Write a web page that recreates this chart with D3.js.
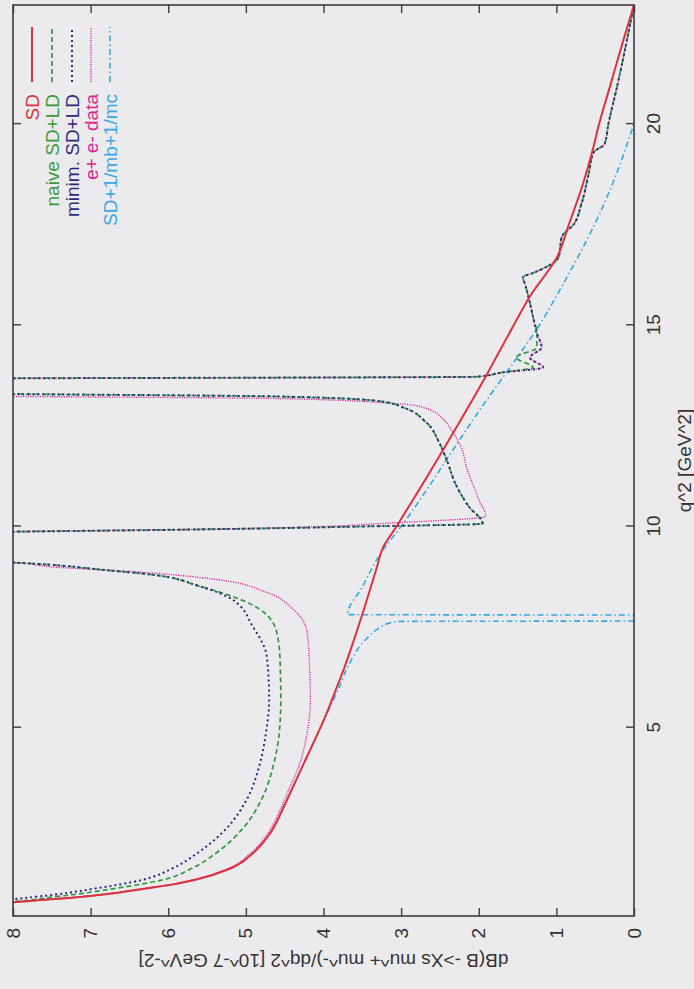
<!DOCTYPE html>
<html>
<head>
<meta charset="utf-8">
<script src="https://cdn.jsdelivr.net/npm/d3@7"></script>
<style>
  html, body { margin: 0; padding: 0; background: #ebebee; }
  svg { display: block; }
  text { font-family: "Liberation Sans", Arial, Helvetica, sans-serif; }
</style>
</head>
<body>
<svg width="694" height="989"></svg>
<script>
// tick values
const q2Ticks = [5, 10, 15, 20];
const rateTicks = [0, 1, 2, 3, 4, 5, 6, 7, 8];

// SD (short distance only)
const q2SD = [0.55, 0.62, 0.7, 0.8, 0.9, 1.0, 1.1, 1.22, 1.5, 1.9, 2.4, 3.0, 3.5, 4.0, 4.5, 5.0, 5.5, 6.0, 6.5, 7.0, 8.0, 9.0, 9.45, 10.0, 11.0, 12.36, 13.73, 15.0, 15.72, 16.7, 17.5, 18.5, 19.3, 20.0, 21.0, 22.0, 22.96];
const sdRate = [9.0, 8.3, 7.75, 7.1, 6.65, 6.3, 5.95, 5.65, 5.2, 4.9, 4.68, 4.52, 4.4, 4.28, 4.16, 4.04, 3.93, 3.83, 3.73, 3.64, 3.47, 3.31, 3.24, 3.06, 2.74, 2.32, 1.91, 1.55, 1.34, 0.99, 0.84, 0.66, 0.54, 0.45, 0.3, 0.15, 0.0];

// SD + 1/mb + 1/mc corrections
const q2Pow = [0.55, 0.62, 0.7, 0.8, 0.9, 1.0, 1.1, 1.22, 1.5, 1.9, 2.4, 3.0, 3.5, 4.0, 4.5, 5.0, 5.5, 6.0, 6.54, 7.14, 7.49, 7.58, 7.64, 7.66, 7.79, 7.81, 8.5, 9.4, 10.0, 11.0, 12.0, 13.0, 14.0, 15.0, 16.0, 17.0, 18.0, 19.0, 20.0, 21.0, 22.96];
const powRate = [9.0, 8.3, 7.75, 7.1, 6.65, 6.3, 5.95, 5.65, 5.2, 4.9, 4.68, 4.52, 4.4, 4.28, 4.16, 4.04, 3.92, 3.8, 3.68, 3.48, 3.27, 3.18, 3.04, -3, -3, 3.69, 3.5, 3.24, 3.0, 2.64, 2.3, 1.95, 1.58, 1.22, 0.92, 0.64, 0.39, 0.18, 0.0, -0.2, -0.6];

// naive SD+LD
const q2Naive = [0.6, 0.66, 0.8, 1.0, 1.22, 1.5, 1.89, 2.54, 3.21, 4.03, 4.88, 5.7, 6.69, 7.36, 7.94, 8.26, 8.51, 8.81, 8.93, 9.05, 9.15, 9.6, 9.86, 9.93, 10.0, 10.07, 10.5, 11.02, 11.69, 12.09, 12.61, 12.94, 13.11, 13.23, 13.3, 13.6, 13.68, 13.72, 13.83, 13.95, 14.2, 14.45, 14.8, 15.2, 15.55, 16.0, 16.2, 16.3, 16.7, 17.2, 17.5, 18.0, 18.8, 19.3, 19.5, 20.0, 21.0, 22.0, 22.96];
const naiveRate = [9.0, 8.2, 7.45, 6.7, 6.07, 5.7, 5.38, 5.02, 4.8, 4.65, 4.57, 4.55, 4.56, 4.6, 4.82, 5.17, 5.59, 6.24, 6.88, 7.53, 8.5, 20, 8.5, 5.5, 3.5, 1.95, 2.13, 2.29, 2.42, 2.51, 2.69, 2.95, 3.26, 4.56, 8.5, 20, 8.5, 2.04, 1.69, 1.3, 1.52, 1.25, 1.25, 1.3, 1.34, 1.4, 1.43, 1.3, 0.97, 0.93, 0.78, 0.68, 0.58, 0.52, 0.38, 0.33, 0.21, 0.1, 0.0];

// minimal SD+LD
const q2Minim = [0.65, 0.7, 0.8, 1.0, 1.22, 1.5, 1.89, 2.54, 3.21, 4.03, 4.88, 5.7, 6.77, 7.51, 8.18, 8.51, 8.81, 8.93, 9.05, 9.15, 9.6, 9.86, 9.93, 10.0, 10.07, 10.5, 11.02, 11.69, 12.09, 12.61, 12.94, 13.11, 13.23, 13.3, 13.6, 13.68, 13.72, 13.83, 13.95, 14.2, 14.45, 14.8, 15.2, 15.55, 16.0, 16.2, 16.3, 16.7, 17.2, 17.5, 18.0, 18.8, 19.3, 19.5, 20.0, 21.0, 22.0, 22.96];
const minimRate = [9.0, 8.3, 7.7, 6.95, 6.33, 5.95, 5.62, 5.23, 4.99, 4.83, 4.74, 4.7, 4.73, 4.91, 5.17, 5.59, 6.24, 6.88, 7.53, 8.5, 20, 8.5, 5.5, 3.5, 1.95, 2.13, 2.29, 2.42, 2.51, 2.69, 2.95, 3.26, 4.56, 8.5, 20, 8.5, 2.04, 1.69, 1.17, 1.34, 1.19, 1.25, 1.3, 1.34, 1.4, 1.43, 1.3, 0.97, 0.93, 0.78, 0.68, 0.58, 0.52, 0.38, 0.33, 0.21, 0.1, 0.0];

// e+ e- data
const q2Data = [0.55, 0.62, 0.7, 0.8, 0.9, 1.0, 1.1, 1.22, 1.5, 1.9, 2.4, 3.0, 3.5, 4.03, 4.88, 5.7, 6.52, 7.36, 7.94, 8.36, 8.68, 8.88, 9.0, 9.1, 9.2, 9.6, 9.86, 9.95, 10.1, 10.25, 10.67, 11.02, 11.42, 11.94, 12.39, 12.69, 12.91, 13.03, 13.06, 13.18, 13.24, 13.6, 13.68, 13.72, 13.83, 13.95, 14.2, 14.45, 14.8, 15.2, 15.55, 16.0, 16.2, 16.3, 16.7, 17.2, 17.5, 18.0, 18.8, 19.3, 19.5, 20.0, 21.0, 22.0, 22.96];
const dataRate = [9.0, 8.32, 7.78, 7.12, 6.68, 6.33, 5.98, 5.68, 5.23, 4.93, 4.71, 4.55, 4.44, 4.32, 4.21, 4.17, 4.18, 4.21, 4.39, 4.73, 5.37, 6.46, 7.53, 7.95, 9.0, 20, 8.5, 5.0, 3.0, 1.91, 2.0, 2.07, 2.15, 2.22, 2.35, 2.47, 2.64, 2.91, 3.13, 4.56, 8.5, 20, 8.5, 2.04, 1.69, 1.17, 1.34, 1.19, 1.25, 1.3, 1.34, 1.4, 1.43, 1.3, 0.97, 0.93, 0.78, 0.68, 0.58, 0.52, 0.38, 0.33, 0.21, 0.1, 0.0];

const legendNames = ["SD", "naive SD+LD", "minim. SD+LD", "e+ e- data", "SD+1/mb+1/mc"];

const svg = d3.select("svg");

// plot frame in the picture: left 13, right 634, top 5, bottom 916
// the whole chart is drawn normally and turned a quarter turn counter-clockwise
const W = 911, H = 621;
const g = svg.append("g").attr("transform", "translate(13,916) rotate(-90)");

const x = d3.scaleLinear().domain([0.32, 22.96]).range([0, W]);
const y = d3.scaleLinear().domain([0, 8]).range([H, 0]);

g.append("clipPath").attr("id", "clip")
  .append("rect").attr("width", W).attr("height", H);

const series = [
  { q: q2SD, v: sdRate, color: "#e0303c", dash: null, width: 2 },
  { q: q2Naive, v: naiveRate, color: "#2f9a3c", dash: "5,3", width: 1.7 },
  { q: q2Minim, v: minimRate, color: "#2b2a7c", dash: "2,3", width: 2 },
  { q: q2Data, v: dataRate, color: "#de2e9a", dash: "1.2,1.2", width: 1.4 },
  { q: q2Pow, v: powRate, color: "#36a8e0", dash: "6,3,1.5,3", width: 1.6 }
];

const line = d3.line()
  .x(d => x(d[0]))
  .y(d => y(d[1]))
  .curve(d3.curveMonotoneX);

const plot = g.append("g").attr("clip-path", "url(#clip)");

// draw back to front so the SD line sits on top
[4, 3, 1, 2, 0].forEach(i => {
  const s = series[i];
  plot.append("path")
    .datum(d3.zip(s.q, s.v))
    .attr("fill", "none")
    .attr("stroke", s.color)
    .attr("stroke-width", s.width)
    .attr("stroke-dasharray", s.dash)
    .attr("d", line);
});

// axes, ticks inward and mirrored
const fontSize = 19;
g.append("g").attr("transform", `translate(0,${H})`)
  .call(d3.axisBottom(x).tickValues(q2Ticks).tickSizeInner(-8).tickSizeOuter(0).tickPadding(13));
g.append("g")
  .call(d3.axisTop(x).tickValues(q2Ticks).tickSizeInner(-8).tickSizeOuter(0).tickFormat(""));
g.append("g")
  .call(d3.axisLeft(y).tickValues(rateTicks).tickSizeInner(-8).tickSizeOuter(0).tickPadding(12));
g.append("g").attr("transform", `translate(${W},0)`)
  .call(d3.axisRight(y).tickValues(rateTicks).tickSizeInner(-8).tickSizeOuter(0).tickFormat(""));

g.selectAll(".domain").remove();
g.selectAll(".tick line").attr("stroke", "#3c3c3c").attr("stroke-width", 1.4);
g.selectAll(".tick text").attr("font-size", fontSize).attr("fill", "#333")
  .style("font-family", '"Liberation Sans", Arial, sans-serif');

g.append("rect")
  .attr("width", W).attr("height", H)
  .attr("fill", "none").attr("stroke", "#3c3c3c").attr("stroke-width", 1.6);

// axis titles
g.append("text")
  .attr("x", W / 2).attr("y", H + 50)
  .attr("text-anchor", "middle").attr("dominant-baseline", "central")
  .attr("font-size", fontSize).attr("fill", "#333")
  .text("q^2 [GeV^2]");

g.append("text")
  .attr("transform", `translate(-44,${H / 2}) rotate(-90)`)
  .attr("text-anchor", "middle").attr("dominant-baseline", "central")
  .attr("font-size", fontSize).attr("fill", "#333")
  .text("dB(B ->Xs mu^+ mu^-)/dq^2 [10^-7 GeV^-2]");

// legend, top right of the unturned chart
const legendRows = [19, 39, 59, 78, 97];
const legendText = ["#e0303c", "#3a9a3a", "#2d2a78", "#e0208a", "#3aa6e6"];
legendNames.forEach((name, i) => {
  const s = series[i];
  g.append("line")
    .attr("x1", 834).attr("x2", 889)
    .attr("y1", legendRows[i]).attr("y2", legendRows[i])
    .attr("stroke", s.color).attr("stroke-width", s.width)
    .attr("stroke-dasharray", s.dash);
  g.append("text")
    .attr("x", 822).attr("y", legendRows[i])
    .attr("text-anchor", "end").attr("dominant-baseline", "central")
    .attr("font-size", fontSize).attr("fill", legendText[i])
    .text(name);
});
</script>
</body>
</html>
